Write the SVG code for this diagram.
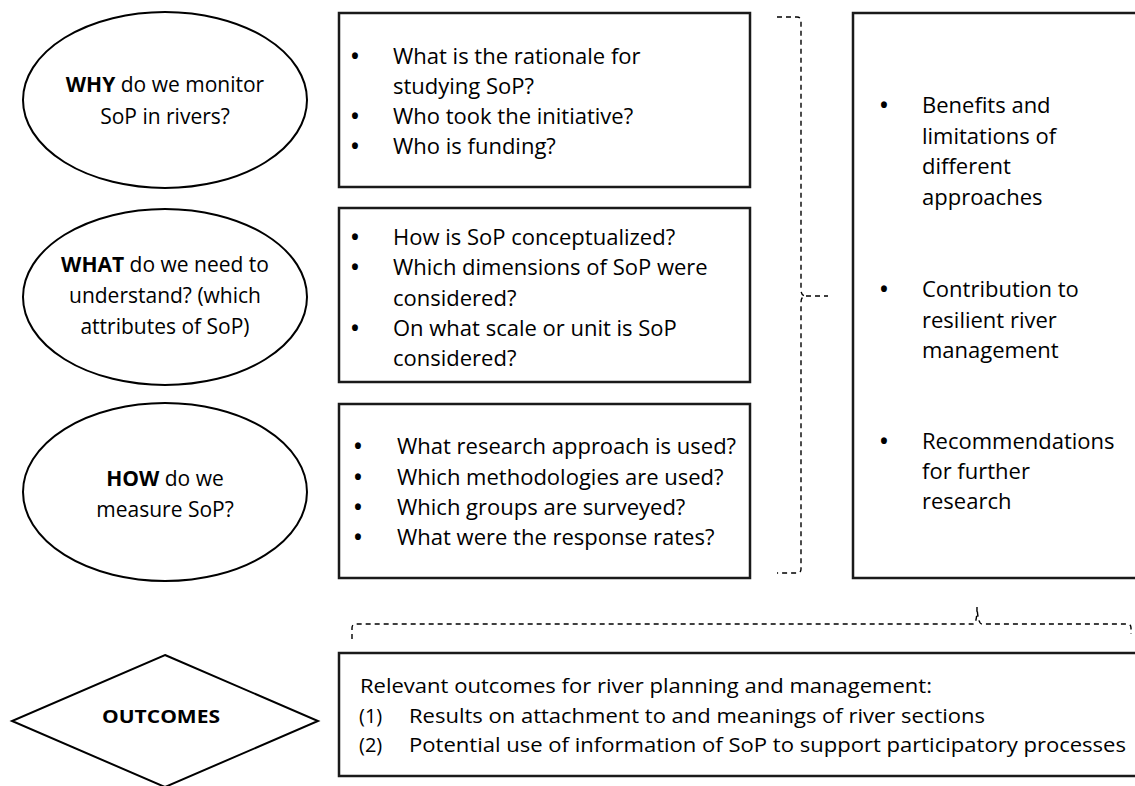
<svg xmlns="http://www.w3.org/2000/svg" width="1135" height="786" viewBox="0 0 1135 786">
<style>
.shape{fill:#fff;stroke:#000;stroke-width:2}
.box{fill:#fff;stroke:#1a1a1a;stroke-width:2.5}
.t{font-family:"Open Sans","Liberation Sans",sans-serif;fill:#000}
.e{font-size:21px;text-anchor:middle}
.b{font-size:22px}
.bl{font-size:21px;font-weight:bold}
.o{font-size:20px}
.dash{fill:none;stroke:#000;stroke-width:1.4;stroke-dasharray:5 4}
</style>
<rect width="1135" height="786" fill="#fff"/>
<g id="why">
<ellipse class="shape" cx="165" cy="100" rx="142" ry="88"/>
<text class="t e" x="165" y="92"><tspan font-weight="bold">WHY</tspan> do we monitor</text>
<text class="t e" x="165" y="124">SoP in rivers?</text>
</g>
<g id="what">
<ellipse class="shape" cx="165" cy="297" rx="142" ry="88"/>
<text class="t e" x="165" y="272"><tspan font-weight="bold">WHAT</tspan> do we need to</text>
<text class="t e" x="165" y="303">understand? (which</text>
<text class="t e" x="165" y="334">attributes of SoP)</text>
</g>
<g id="how">
<ellipse class="shape" cx="165" cy="492" rx="142" ry="89"/>
<text class="t e" x="165" y="486"><tspan font-weight="bold">HOW</tspan> do we</text>
<text class="t e" x="165" y="517">measure SoP?</text>
</g>
<g id="why-box">
<rect class="box" x="339" y="13" width="411" height="174"/>
<g class="t b">
<text class="bl" x="351" y="64">•</text><text x="393" y="64">What is the rationale for</text>
<text x="393" y="94">studying SoP?</text>
<text class="bl" x="351" y="124">•</text><text x="393" y="124">Who took the initiative?</text>
<text class="bl" x="351" y="154">•</text><text x="393" y="154">Who is funding?</text>
</g>
</g>
<g id="what-box">
<rect class="box" x="339" y="208" width="411" height="174"/>
<g class="t b">
<text class="bl" x="351" y="245">•</text><text x="393" y="245">How is SoP conceptualized?</text>
<text class="bl" x="351" y="275">•</text><text x="393" y="275">Which dimensions of SoP were</text>
<text x="393" y="306">considered?</text>
<text class="bl" x="351" y="336">•</text><text x="393" y="336">On what scale or unit is SoP</text>
<text x="393" y="366">considered?</text>
</g>
</g>
<g id="how-box">
<rect class="box" x="339" y="404" width="411" height="174"/>
<g class="t b">
<text class="bl" x="354" y="454">•</text><text x="397" y="454">What research approach is used?</text>
<text class="bl" x="354" y="485">•</text><text x="397" y="485">Which methodologies are used?</text>
<text class="bl" x="354" y="515">•</text><text x="397" y="515">Which groups are surveyed?</text>
<text class="bl" x="354" y="545">•</text><text x="397" y="545">What were the response rates?</text>
</g>
</g>
<g id="results-box">
<rect class="box" x="853" y="13" width="300" height="565"/>
<g class="t b">
<text class="bl" x="880" y="113">•</text><text x="922" y="113">Benefits and</text>
<text x="922" y="144">limitations of</text>
<text x="922" y="174">different</text>
<text x="922" y="205">approaches</text>
<text class="bl" x="880" y="297">•</text><text x="922" y="297">Contribution to</text>
<text x="922" y="328">resilient river</text>
<text x="922" y="358">management</text>
<text class="bl" x="880" y="449">•</text><text x="922" y="449">Recommendations</text>
<text x="922" y="479">for further</text>
<text x="922" y="509">research</text>
</g>
</g>
<g id="outcomes">
<polygon class="shape" points="165,655 318,721 165,787 12,721"/>
<text class="t" x="161" y="723" font-size="18" font-weight="bold" text-anchor="middle" textLength="118" lengthAdjust="spacingAndGlyphs">OUTCOMES</text>
</g>
<g id="outcomes-box">
<rect class="box" x="339" y="653" width="820" height="123"/>
<g class="t o">
<text x="360" y="693" textLength="572" lengthAdjust="spacingAndGlyphs">Relevant outcomes for river planning and management:</text>
<text x="359" y="723">(1)</text><text x="409" y="723" textLength="576" lengthAdjust="spacingAndGlyphs">Results on attachment to and meanings of river sections</text>
<text x="359" y="752">(2)</text><text x="409" y="752" textLength="717" lengthAdjust="spacingAndGlyphs">Potential use of information of SoP to support participatory processes</text>
</g>
</g>
<g id="connectors">
<path class="dash" d="M777,17 H797 Q801,17 801,21 V290 Q801,295 805,296 Q801,297 801,302 V569 Q801,573 797,573 H777"/>
<path class="dash" d="M806,296 H828"/>
<path class="dash" d="M352,639 V628 Q352,624 356,624 H973 Q977,624 977,607 Q978,624 982,624 H1127 Q1131,624 1131,628 V634"/>
</g>
</svg>
